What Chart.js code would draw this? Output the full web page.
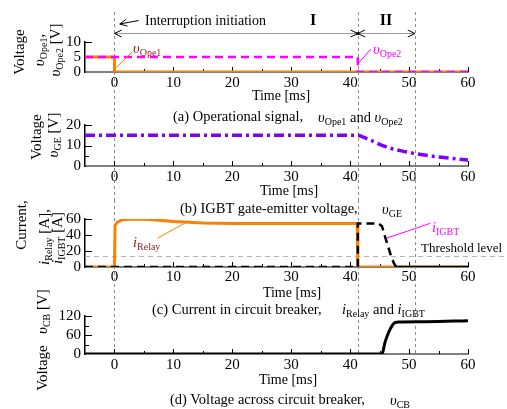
<!DOCTYPE html>
<html>
<head>
<meta charset="utf-8">
<script src="https://cdn.jsdelivr.net/npm/chart.js@4"></script>
<style>
body { margin: 0; background: #fff; }
#wrap { position: relative; width: 507px; height: 409px; overflow: hidden; font-family: "Liberation Serif", "Times New Roman", serif; color: #000; }
canvas { position: absolute; left: 0; }
.c, .l, .r { position: absolute; white-space: nowrap; line-height: 1; }
.c { transform: translate(-50%, -50%); font-size: 14px; }
.l { transform: translateY(-50%); font-size: 14.5px; }
.r { transform: translate(-50%, -50%) rotate(-90deg); font-size: 15px; }
i { font-style: italic; }
sub { font-size: 10px; vertical-align: -3px; line-height: 0; font-style: normal; }
</style>
</head>
<body>
<div id="wrap">
  <canvas id="pa" width="507" height="108" style="top:0px"></canvas>
  <canvas id="pb" width="507" height="92" style="top:108px"></canvas>
  <canvas id="pc" width="507" height="102" style="top:200px"></canvas>
  <canvas id="pd" width="507" height="107" style="top:302px"></canvas>

  <div class="l" style="left:145px;top:21px;font-size:14px">Interruption initiation</div>
  <div class="c" style="left:313px;top:20px;font-size:16px;font-weight:bold">I</div>
  <div class="c" style="left:386px;top:20px;font-size:16px;font-weight:bold">II</div>

  <div class="r" style="left:19px;top:52px">Voltage</div>
  <div class="r" style="left:39px;top:50px"><i>υ</i><sub>Ope1</sub>,</div>
  <div class="r" style="left:55px;top:50px"><i>υ</i><sub>Ope2</sub> [V]</div>
  <div class="l" style="left:133px;top:48px;color:#9b1c1c"><i>υ</i><sub>Ope1</sub></div>
  <div class="l" style="left:373px;top:49px;color:#ff00ff"><i>υ</i><sub>Ope2</sub></div>
  <div class="c" style="left:281px;top:96px">Time [ms]</div>
  <div class="l" style="left:173px;top:116px">(a) Operational signal,</div>
  <div class="l" style="left:318px;top:117px"><i>υ</i><sub>Ope1</sub> and <i>υ</i><sub>Ope2</sub></div>

  <div class="r" style="left:36px;top:137px">Voltage</div>
  <div class="r" style="left:53px;top:135px"><i>υ</i><sub>GE</sub> [V]</div>
  <div class="c" style="left:289px;top:191px">Time [ms]</div>
  <div class="l" style="left:180px;top:208px">(b) IGBT gate-emitter voltage,</div>
  <div class="l" style="left:382px;top:209px"><i>υ</i><sub>GE</sub></div>

  <div class="r" style="left:21px;top:225px">Current,</div>
  <div class="r" style="left:44px;top:237px"><i>i</i><sub>Relay</sub> [A],</div>
  <div class="r" style="left:57px;top:238px"><i>i</i><sub>IGBT</sub> [A]</div>
  <div class="l" style="left:133px;top:242px;color:#9b1c1c"><i>i</i><sub>Relay</sub></div>
  <div class="l" style="left:432px;top:227px;color:#ff00ff"><i>i</i><sub>IGBT</sub></div>
  <div class="l" style="left:421px;top:247px;font-size:13px">Threshold level</div>
  <div class="c" style="left:292px;top:293px">Time [ms]</div>
  <div class="l" style="left:152px;top:309px">(c) Current in circuit breaker,</div>
  <div class="l" style="left:342px;top:309px"><i>i</i><sub>Relay</sub> and <i>i</i><sub>IGBT</sub></div>

  <div class="r" style="left:42px;top:340px">Voltage&nbsp;&nbsp; <i>υ</i><sub>CB</sub> [V]</div>
  <div class="c" style="left:288px;top:380px">Time [ms]</div>
  <div class="l" style="left:170px;top:399px">(d) Voltage across circuit breaker,</div>
  <div class="l" style="left:390px;top:400px"><i>υ</i><sub>CB</sub></div>
</div>
<script>
// marker times (ms): interruption start, end of stage I, end of stage II
const markerTimes = [0, 41.3, 51];

// (a) operational signals
const opeTime1 = [-5, 0, 0, 60];
const vOpe1 = [5, 5, 0, 0];
const opeTime2 = [-5, 41.3, 41.3, 60];
const vOpe2 = [5, 5, 0, 0];

// (b) gate-emitter voltage
const geTime = [-5, 41.3, 42, 43.4, 45, 46.8, 48.5, 50.2, 52, 53.6, 55, 56.9, 58.5, 60];
const vGE = [15, 15, 14.3, 12.7, 10.6, 8.7, 7.5, 6.5, 5.6, 4.9, 4.4, 3.8, 3.3, 2.9];

// (c) currents
const relayTime = [-5, 0, 0.1, 0.5, 1.3, 3, 6, 10, 15, 20, 30, 41.2, 41.3, 60];
const iRelay = [0, 0, 52, 56, 59, 60, 59.5, 57, 55, 54.5, 54.5, 54.5, 0, 0];
const igbtTime = [-5, 41.3, 41.3, 44.8, 45.4, 46.0, 46.8, 47.4, 47.8, 60];
const iIGBT = [0, 0, 54.5, 54.5, 51, 36, 17, 5, 0, 0];
const thresholdLevel = 14;

// (d) breaker voltage
const cbTime = [-5, 45.4, 45.9, 46.5, 47.1, 47.6, 48.3, 53, 60];
const vCB = [0, 0, 36, 67, 89, 99, 101, 102, 105];

const fontFamily = '"Liberation Serif", "Times New Roman", serif';
const pts = (xs, ys) => xs.map((x, i) => ({ x, y: ys[i] }));

function seg(ctx, x0, y0, x1, y1, color, width) {
  ctx.strokeStyle = color;
  ctx.lineWidth = width;
  ctx.beginPath();
  ctx.moveTo(x0, y0);
  ctx.lineTo(x1, y1);
  ctx.stroke();
}

function arrowHead(ctx, tipX, tipY, fromX, fromY) {
  const ang = Math.atan2(tipY - fromY, tipX - fromX);
  const len = 8, spread = 0.45;
  ctx.strokeStyle = '#000';
  ctx.lineWidth = 1;
  ctx.beginPath();
  ctx.moveTo(tipX - len * Math.cos(ang - spread), tipY - len * Math.sin(ang - spread));
  ctx.lineTo(tipX, tipY);
  ctx.lineTo(tipX - len * Math.cos(ang + spread), tipY - len * Math.sin(ang + spread));
  ctx.stroke();
}

function guides(top) {
  return {
    id: 'guides',
    beforeDatasetsDraw(chart) {
      const { ctx, height, scales: { x } } = chart;
      const y0 = Math.max(0, 12 - top), y1 = Math.min(height, 356 - top);
      ctx.save();
      ctx.setLineDash([3, 3]);
      markerTimes.forEach(t => {
        const px = Math.round(x.getPixelForValue(t)) + 0.5;
        seg(ctx, px, y0, px, y1, '#8c8c8c', 1);
      });
      ctx.restore();
    }
  };
}

const innerTicks = {
  id: 'innerTicks',
  beforeDatasetsDraw(chart) {
    const { ctx, chartArea: a, scales: { x, y } } = chart;
    ctx.save();
    x.ticks.forEach(t => {
      if (t.value <= x.min) return;
      const px = Math.round(x.getPixelForValue(t.value)) + 0.5;
      seg(ctx, px, a.bottom, px, a.bottom - (t.label !== '' ? 5 : 3), '#000', 1);
    });
    y.ticks.forEach(t => {
      if (t.value <= y.min) return;
      const py = Math.round(y.getPixelForValue(t.value)) + 0.5;
      seg(ctx, a.left, py, a.left + (t.label !== '' ? 7 : 4), py, '#000', 1);
    });
    ctx.restore();
  }
};

function panelOptions(p) {
  return {
    responsive: false,
    animation: false,
    events: [],
    layout: { padding: { left: 0, right: 39, top: p.areaTop - p.top, bottom: 0 } },
    plugins: { legend: { display: false }, tooltip: { enabled: false } },
    elements: { point: { radius: 0 }, line: { borderCapStyle: 'butt' } },
    scales: {
      x: {
        type: 'linear', min: -5, max: 60,
        ticks: {
          stepSize: 5, autoSkip: false, maxRotation: 0, padding: p.tickY - p.areaBottom - 9,
          color: '#000', font: { family: fontFamily, size: 15 },
          callback: v => (v % 10 === 0 ? v : '')
        },
        grid: { drawOnChartArea: false, drawTicks: false },
        border: { color: '#808080', width: 2 },
        afterFit: s => { s.height = p.top + p.height - p.areaBottom; }
      },
      y: {
        min: 0, max: p.yMax,
        ticks: {
          stepSize: p.yStep, autoSkip: false, padding: 4, color: '#000', font: { family: fontFamily, size: 15 },
          callback: v => (v % p.yLabelStep === 0 ? v : '')
        },
        grid: { drawOnChartArea: false, drawTicks: false },
        border: { color: '#000', width: 1.5 },
        afterFit: s => { s.width = 85; }
      }
    }
  };
}

// (a)
const panelA = { top: 0, height: 108, areaTop: 42, areaBottom: 72, tickY: 83, yMax: 10, yStep: 5, yLabelStep: 5 };
new Chart(document.getElementById('pa'), {
  type: 'line',
  data: {
    datasets: [
      { data: pts(opeTime2, vOpe2), borderColor: '#ff00ff', borderWidth: 2.5, borderDash: [8, 5], order: 0 },
      { data: pts(opeTime1, vOpe1), borderColor: '#ff8000', borderWidth: 3, order: 1 }
    ]
  },
  options: panelOptions(panelA),
  plugins: [guides(panelA.top), innerTicks, {
    id: 'annotA',
    afterDatasetsDraw(chart) {
      const { ctx, scales: { x, y } } = chart;
      ctx.save();
      seg(ctx, x.getPixelForValue(0.2), y.getPixelForValue(1.3), x.getPixelForValue(3.0), y.getPixelForValue(6.7), '#ff8000', 1);
      seg(ctx, x.getPixelForValue(41.4), y.getPixelForValue(2.9), x.getPixelForValue(43.5), y.getPixelForValue(7.6), '#ff00ff', 1);
      const x0 = x.getPixelForValue(markerTimes[0]), x1 = x.getPixelForValue(markerTimes[1]), x2 = x.getPixelForValue(markerTimes[2]);
      const ya = 33.5;
      seg(ctx, x0, ya, x2, ya, '#9a9a9a', 1);
      arrowHead(ctx, x0, ya, x1, ya);
      arrowHead(ctx, x1, ya, x0, ya);
      arrowHead(ctx, x1, ya, x2, ya);
      arrowHead(ctx, x2, ya, x1, ya);
      ctx.fillStyle = '#000';
      ctx.beginPath();
      ctx.arc(x1, ya, 1.6, 0, Math.PI * 2);
      ctx.fill();
      const sx = x.getPixelForValue(4.1), tx = x.getPixelForValue(0.9);
      seg(ctx, sx, 20.5, tx, 24, '#000', 1);
      arrowHead(ctx, tx, 24, sx, 20.5);
      ctx.restore();
    }
  }]
});

// (b)
const panelB = { top: 108, height: 92, areaTop: 125, areaBottom: 166, tickY: 177, yMax: 20, yStep: 5, yLabelStep: 10 };
new Chart(document.getElementById('pb'), {
  type: 'line',
  data: {
    datasets: [
      { data: pts(geTime, vGE), borderColor: '#8000ff', borderWidth: 3.5, borderDash: [10, 4, 3, 4], cubicInterpolationMode: 'monotone' }
    ]
  },
  options: panelOptions(panelB),
  plugins: [guides(panelB.top), innerTicks]
});

// (c)
const panelC = { top: 200, height: 102, areaTop: 219, areaBottom: 267, tickY: 277.5, yMax: 60, yStep: 20, yLabelStep: 20 };
new Chart(document.getElementById('pc'), {
  type: 'line',
  data: {
    datasets: [
      {
        data: pts(igbtTime, iIGBT), borderColor: '#000', borderWidth: 2.5, borderDash: [8, 5], order: 0,
        segment: { borderDash: c => (c.p0.parsed.x >= 47.8 ? [] : [8, 5]) }
      },
      { data: pts(relayTime, iRelay), borderColor: '#ff8000', borderWidth: 3, order: 1 }
    ]
  },
  options: panelOptions(panelC),
  plugins: [guides(panelC.top), innerTicks, {
    id: 'annotC',
    beforeDatasetsDraw(chart) {
      const { ctx, width, chartArea: a, scales: { y } } = chart;
      const py = Math.round(y.getPixelForValue(thresholdLevel)) + 0.5;
      ctx.save();
      ctx.setLineDash([5, 4]);
      seg(ctx, a.left, py, width - 3, py, '#b4b4b4', 1);
      ctx.restore();
    },
    afterDatasetsDraw(chart) {
      const { ctx, scales: { x, y } } = chart;
      ctx.save();
      seg(ctx, x.getPixelForValue(7.3), y.getPixelForValue(36), x.getPixelForValue(12.0), y.getPixelForValue(55), '#ff8000', 1);
      seg(ctx, x.getPixelForValue(46.2), y.getPixelForValue(36), x.getPixelForValue(53.6), y.getPixelForValue(54.6), '#ff00ff', 1);
      ctx.restore();
    }
  }]
});

// (d)
const panelD = { top: 302, height: 107, areaTop: 316, areaBottom: 354, tickY: 365, yMax: 120, yStep: 30, yLabelStep: 60 };
new Chart(document.getElementById('pd'), {
  type: 'line',
  data: {
    datasets: [
      { data: pts(cbTime, vCB), borderColor: '#000', borderWidth: 3, cubicInterpolationMode: 'monotone' }
    ]
  },
  options: panelOptions(panelD),
  plugins: [guides(panelD.top), innerTicks]
});
</script>
</body>
</html>
